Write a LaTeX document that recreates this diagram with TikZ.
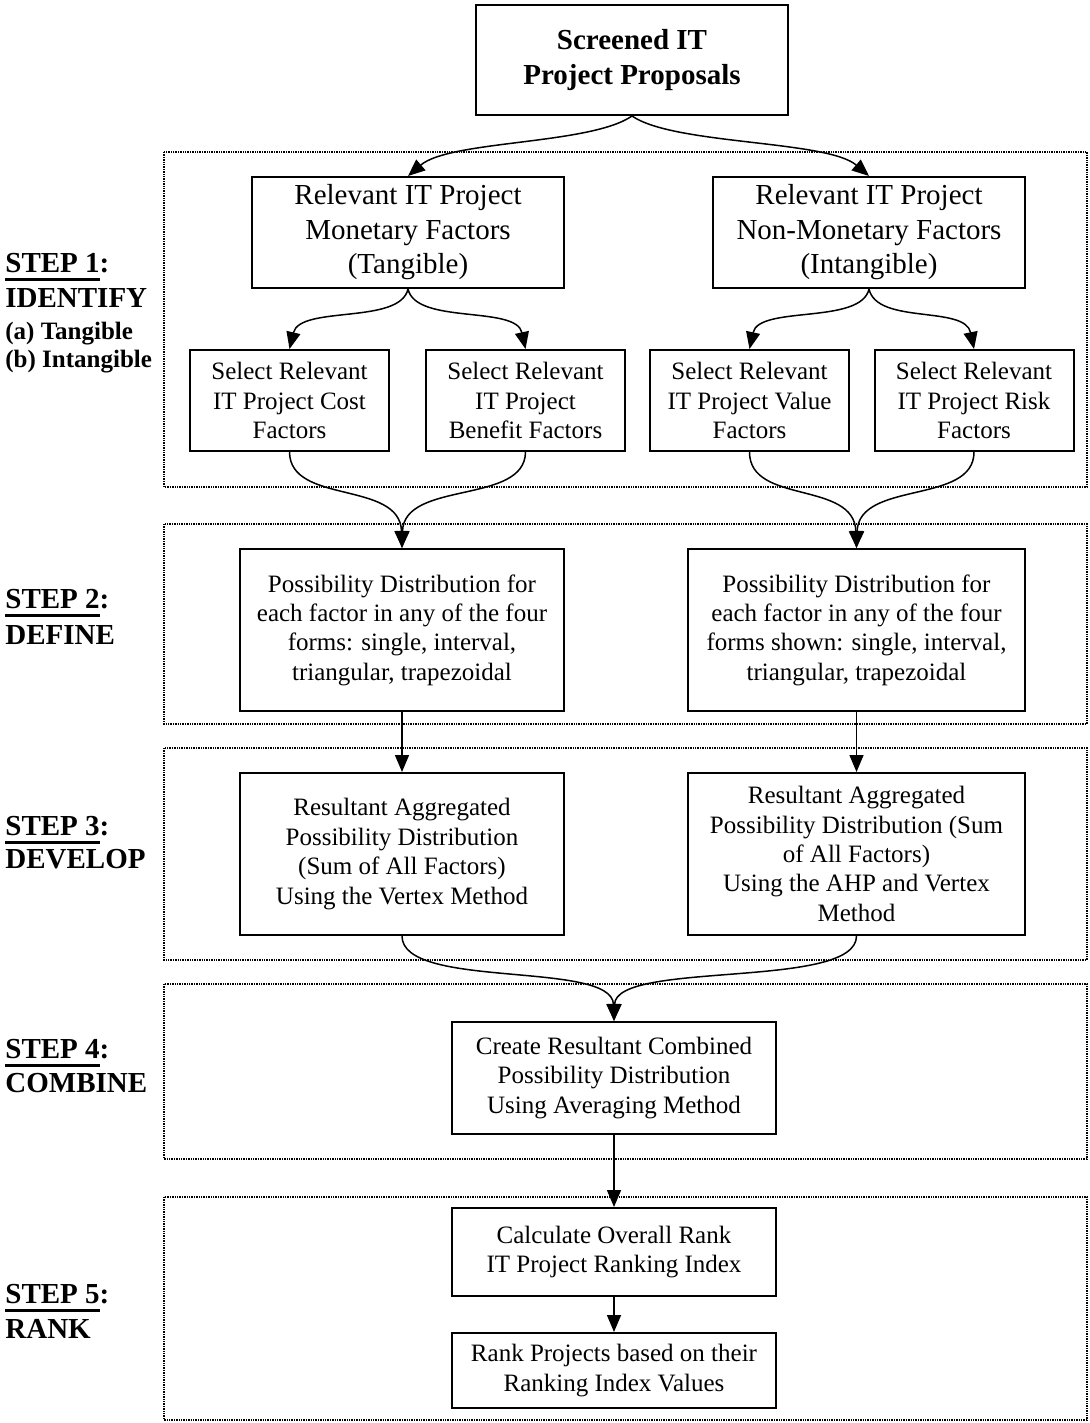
\documentclass[tikz,border=0pt]{standalone}
\usepackage{fontspec}
\setmainfont{Liberation Serif}
\usetikzlibrary{arrows.meta}
\newcommand\thickul[1]{\setbox0\hbox{#1}\rlap{\rule[-4.5pt]{\wd0}{1.5pt}}\box0}
\begin{document}
\begin{tikzpicture}[x=0.5pt,y=-0.5pt,
  box/.style={draw, line width=1pt, inner sep=0pt, align=center},
  bigtext/.style={font=\fontsize{14.5}{17.25}\selectfont},
  boldtext/.style={font=\fontsize{14.5}{17.5}\selectfont\bfseries},
  smalltext/.style={font=\fontsize{12.5}{14.7}\selectfont},
  frame/.style={dash pattern=on 0.7pt off 0.5pt, line width=0.7pt},
  conn/.style={line width=0.75pt, -{Triangle[length=8.5pt,width=7pt]}},
  steplab/.style={anchor=base west, inner sep=0pt, font=\fontsize{14.5}{17}\selectfont\bfseries},
  subl/.style={anchor=base west, inner sep=0pt, font=\fontsize{12.5}{15}\selectfont\bfseries}]
\path[use as bounding box] (0,0) rectangle (1089,1423);

% dotted step frames
\draw[frame] (164,152) rectangle (1087,487);
\draw[frame] (164,524) rectangle (1087,724);
\draw[frame] (164,748) rectangle (1087,960);
\draw[frame] (164,984) rectangle (1087,1159);
\draw[frame] (164,1197) rectangle (1087,1420);

% boxes
\node[box, boldtext, minimum width=156pt, minimum height=55pt] (top) at (632,60) {Screened IT\\Project Proposals};
\node[box, bigtext, minimum width=156pt, minimum height=55.5pt] (mon) at (408,232.5) {Relevant IT Project\\Monetary Factors\\(Tangible)};
\node[box, bigtext, minimum width=156pt, minimum height=55.5pt] (nonmon) at (869,232.5) {Relevant IT Project\\Non-Monetary Factors\\(Intangible)};

\node[box, smalltext, minimum width=99.5pt, minimum height=50.5pt] (cost) at (289.5,400.5) {Select Relevant\\IT Project Cost\\Factors};
\node[box, smalltext, minimum width=99.5pt, minimum height=50.5pt] (benefit) at (525.5,400.5) {Select Relevant\\IT Project\\Benefit Factors};
\node[box, smalltext, minimum width=99.5pt, minimum height=50.5pt] (value) at (749.5,400.5) {Select Relevant\\IT Project Value\\Factors};
\node[box, smalltext, minimum width=99.5pt, minimum height=50.5pt] (risk) at (974,400.5) {Select Relevant\\IT Project Risk\\Factors};

\node[box, smalltext, minimum width=162pt, minimum height=81pt] (defL) at (402,630) {Possibility Distribution for\\each factor in any of the four\\forms: single, interval,\\triangular, trapezoidal};
\node[box, smalltext, minimum width=168.5pt, minimum height=81pt] (defR) at (856.5,630) {Possibility Distribution for\\each factor in any of the four\\forms shown: single, interval,\\triangular, trapezoidal};

\node[box, smalltext, minimum width=162pt, minimum height=81pt] (devL) at (402,854) {Resultant Aggregated\\Possibility Distribution\\(Sum of All Factors)\\Using the Vertex Method};
\node[box, smalltext, minimum width=168.5pt, minimum height=81pt] (devR) at (856.5,854) {Resultant Aggregated\\Possibility Distribution (Sum\\of All Factors)\\Using the AHP and Vertex\\Method};

\node[box, smalltext, minimum width=162pt, minimum height=56pt] (comb) at (614,1078) {Create Resultant Combined\\Possibility Distribution\\Using Averaging Method};
\node[box, smalltext, minimum width=162pt, minimum height=44pt] (calc) at (614,1252) {Calculate Overall Rank\\IT Project Ranking Index};
\node[box, smalltext, minimum width=162pt, minimum height=37.5pt] (rank) at (614,1370.5) {Rank Projects based on their\\Ranking Index Values};

% connectors
\draw[conn] (top.south) .. controls (590,145) and (450,140) .. (mon.north);
\draw[conn] (top.south) .. controls (674,145) and (827,140) .. (nonmon.north);

\draw[conn] (mon.south) .. controls (400,325) and (300,305) .. (cost.north);
\draw[conn] (mon.south) .. controls (416,325) and (516,305) .. (benefit.north);
\draw[conn] (nonmon.south) .. controls (861,325) and (759,305) .. (value.north);
\draw[conn] (nonmon.south) .. controls (877,325) and (965,305) .. (risk.north);

\draw[conn] (cost.south) .. controls (290,505) and (400,480) .. (defL.north);
\draw[conn] (benefit.south) .. controls (525,505) and (404,480) .. (defL.north);
\draw[conn] (value.south) .. controls (749.5,505) and (854,480) .. (defR.north);
\draw[conn] (risk.south) .. controls (974,505) and (859,480) .. (defR.north);

\draw[conn] (defL.south) -- (devL.north);
\draw[conn] (defR.south) -- (devR.north);

\draw[conn] (devL.south) .. controls (402,990) and (612,960) .. (comb.north);
\draw[conn] (devR.south) .. controls (856.5,990) and (616,960) .. (comb.north);

\draw[conn] (comb.south) -- (calc.north);
\draw[conn] (calc.south) -- (rank.north);

% step labels
\node[steplab] (s1a) at (5,272) {\thickul{STEP 1}:};
\node[steplab] (s1b) at (5,307) {IDENTIFY};
\node[subl] (s1c) at (5,339) {(a) Tangible};
\node[subl] (s1d) at (5,367) {(b) Intangible};

\node[steplab] (s2a) at (5,608) {\thickul{STEP 2}:};
\node[steplab] (s2b) at (5,644) {DEFINE};

\node[steplab] (s3a) at (5,835) {\thickul{STEP 3}:};
\node[steplab] (s3b) at (5,868) {DEVELOP};

\node[steplab] (s4a) at (5,1058) {\thickul{STEP 4}:};
\node[steplab] (s4b) at (5,1092) {COMBINE};

\node[steplab] (s5a) at (5,1303) {\thickul{STEP 5}:};
\node[steplab] (s5b) at (5,1338) {RANK};
\end{tikzpicture}
\end{document}
